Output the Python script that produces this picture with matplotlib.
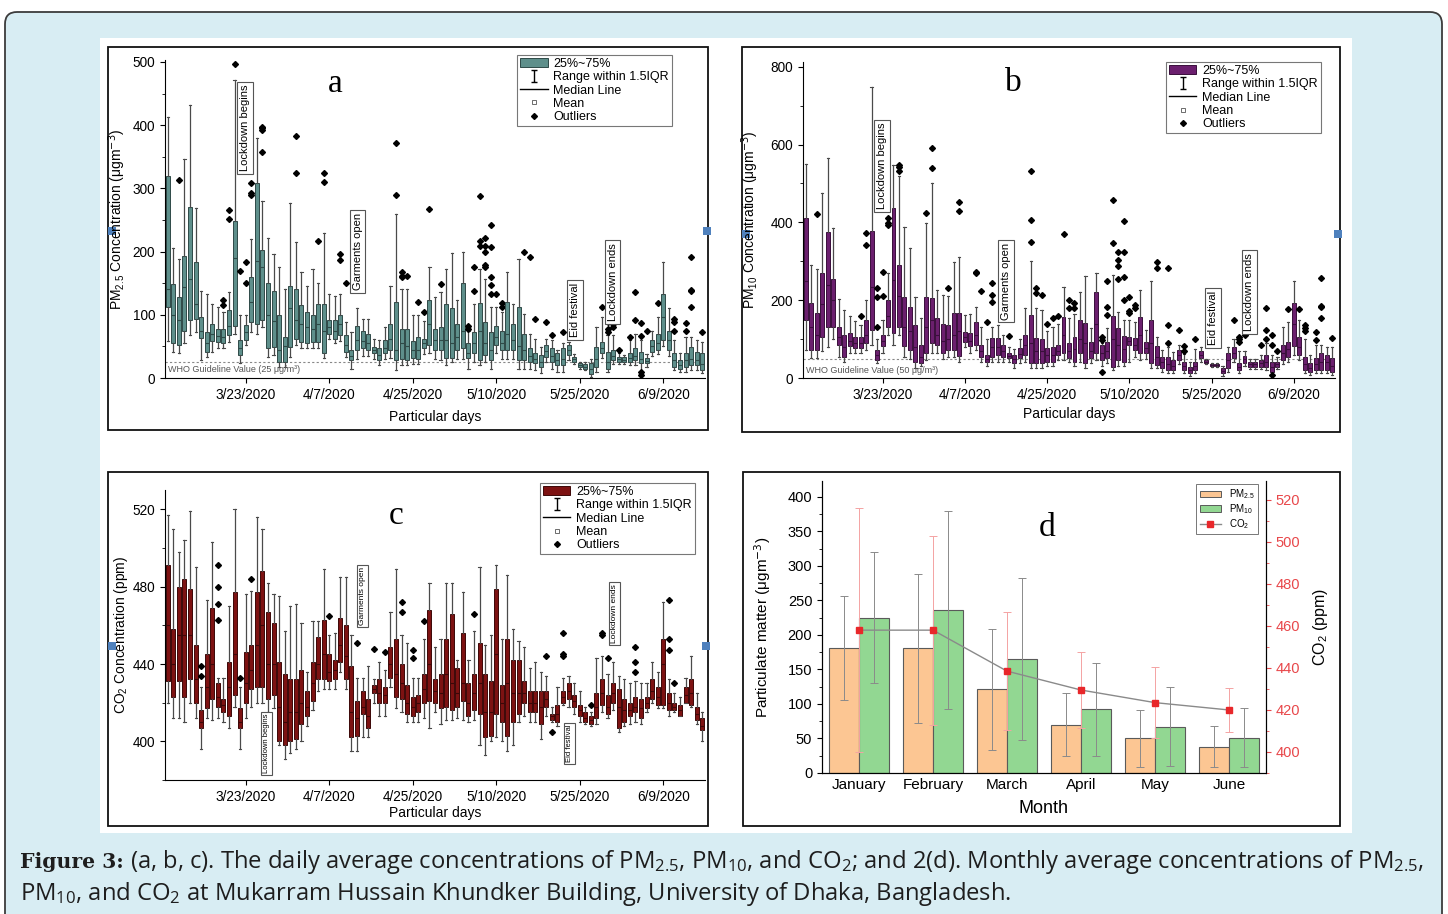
import numpy as np
import matplotlib
matplotlib.use('Agg')
import matplotlib.pyplot as plt
from matplotlib.patches import Rectangle, FancyBboxPatch, Patch
from matplotlib.lines import Line2D
from matplotlib.path import Path
from matplotlib.ticker import MultipleLocator

plt.rcParams['font.family'] = ['Liberation Sans', 'DejaVu Sans']
plt.rcParams['mathtext.default'] = 'regular'

# ---------------- data ----------------
date_pos = [15, 30, 45, 60, 75, 90]
date_labels = ['3/23/2020', '4/7/2020', '4/25/2020', '5/10/2020', '5/25/2020', '6/9/2020']

# (a) PM2.5 daily box stats
a_lo = [58, 41, 39, 55, 68, 73, 28, 34, 41, 47, 47, 57, 70, 23, 52, 73, 70, 80, 34, 36,
        18, 18, 34, 52, 47, 47, 47, 47, 31, 62, 55, 58, 34, 15, 30, 35, 35, 30, 20, 30,
        32, 13, 20, 20, 22, 22, 38, 40, 30, 28, 20, 25, 30, 30, 15, 25, 20, 25, 15, 40,
        30, 30, 30, 15, 15, 15, 12, 8, 25, 15, 10, 10, 28, 22, 15, 12, 2, 10, 32, 10,
        22, 22, 22, 20, 20, 10, 18, 35, 38, 50, 35, 12, 10, 10, 12, 12, 8]
a_q1 = [112, 55, 52, 75, 91, 94, 63, 41, 58, 57, 56, 68, 83, 36, 60, 89, 86, 91, 47, 49,
        26, 26, 49, 62, 57, 55, 57, 57, 39, 70, 62, 68, 41, 28, 44, 47, 44, 39, 28, 39,
        44, 28, 30, 28, 32, 30, 47, 52, 44, 44, 31, 31, 44, 47, 31, 39, 28, 36, 28, 52,
        44, 44, 44, 28, 28, 26, 23, 18, 34, 26, 20, 20, 36, 26, 18, 15, 7, 18, 39, 15,
        28, 26, 26, 26, 28, 23, 23, 41, 44, 60, 44, 18, 15, 18, 20, 20, 13]
a_med = [140, 99, 91, 144, 157, 117, 75, 55, 70, 66, 65, 82, 190, 48, 72, 120, 185, 175, 100, 90,
         45, 50, 110, 92, 85, 80, 78, 85, 75, 80, 75, 85, 52, 35, 60, 58, 55, 44, 36, 48,
         62, 45, 55, 50, 45, 45, 55, 85, 60, 60, 60, 55, 65, 75, 40, 55, 75, 55, 45, 65,
         55, 70, 60, 50, 45, 35, 30, 25, 42, 35, 28, 30, 45, 30, 20, 18, 15, 30, 48, 25,
         35, 30, 29, 32, 35, 30, 27, 50, 55, 96, 60, 28, 20, 28, 30, 28, 22]
a_q3 = [320, 149, 128, 193, 271, 184, 96, 73, 86, 78, 78, 107, 248, 60, 84, 159, 309, 202, 151, 138,
        99, 65, 146, 140, 116, 104, 99, 117, 117, 91, 91, 100, 68, 44, 83, 74, 69, 49, 47, 60,
        86, 120, 78, 78, 58, 65, 62, 123, 78, 81, 117, 110, 86, 151, 55, 73, 118, 89, 73, 83,
        75, 120, 86, 112, 70, 47, 39, 36, 52, 47, 39, 47, 52, 34, 23, 22, 23, 49, 57, 41,
        44, 34, 33, 39, 47, 41, 31, 60, 70, 133, 75, 39, 28, 39, 49, 41, 39]
a_hi = [413, 206, 188, 346, 432, 269, 138, 133, 117, 112, 105, 136, 471, 99, 100, 220, 380, 280, 222, 196,
        175, 141, 277, 215, 167, 146, 172, 151, 230, 133, 130, 133, 89, 73, 110, 94, 94, 62, 60, 81,
        146, 259, 140, 140, 99, 99, 90, 175, 128, 136, 172, 197, 123, 199, 75, 117, 172, 157, 112, 112,
        105, 167, 117, 188, 102, 70, 62, 49, 62, 60, 44, 55, 57, 38, 26, 25, 30, 81, 96, 68,
        68, 39, 37, 60, 70, 60, 38, 75, 96, 183, 110, 60, 39, 65, 65, 60, 57]
a_out = {3: [313], 11: [116, 123], 12: [252, 266], 13: [497], 14: [170], 15: [150, 184],
         16: [289, 293, 309], 18: [357, 393, 395, 397], 24: [325, 383], 28: [217], 29: [310, 324],
         32: [186, 196], 33: [150], 42: [289, 371], 43: [159, 162, 168], 44: [161], 46: [121],
         47: [104], 48: [267], 50: [148], 55: [77, 82], 56: [137, 175], 57: [209, 217, 288],
         58: [175, 178, 199, 209, 222], 59: [133, 147, 160, 208, 242], 60: [133], 61: [112, 118],
         65: [199], 66: [191], 67: [94], 69: [89], 70: [68], 72: [73], 79: [112], 80: [73, 78, 89],
         81: [81, 86], 82: [44], 84: [65], 85: [92, 136], 86: [66, 87, 5, 10], 87: [75], 89: [118],
         92: [75, 89, 94], 94: [74, 87], 95: [112, 138, 139, 191], 97: [73]}

# (b) PM10 daily box stats
b_lo = [72, 51, 51, 70, 80, 100, 55, 42, 63, 63, 63, 72, 85, 38, 63, 110, 85, 110, 55, 50,
        25, 30, 45, 65, 63, 50, 55, 55, 42, 80, 63, 72, 42, 30, 42, 42, 42, 40, 25, 38,
        42, 25, 25, 25, 30, 30, 45, 45, 40, 30, 40, 25, 38, 45, 30, 38, 20, 30, 30, 40,
        55, 45, 50, 25, 25, 15, 12, 12, 35, 12, 5, 12, 42, 35, 28, 28, 5, 15, 40, 12,
        30, 22, 22, 22, 20, 10, 22, 35, 40, 60, 45, 12, 8, 12, 12, 12, 8]
b_q1 = [149, 72, 72, 106, 132, 132, 85, 55, 81, 76, 76, 91, 123, 46, 82, 132, 115, 132, 81, 72,
        42, 38, 63, 89, 85, 63, 72, 72, 57, 93, 81, 85, 55, 42, 55, 59, 55, 51, 38, 51,
        59, 38, 38, 38, 42, 42, 59, 63, 51, 42, 63, 38, 51, 63, 46, 51, 29, 46, 42, 85,
        72, 63, 63, 38, 33, 25, 21, 21, 46, 21, 12, 21, 51, 39, 31, 31, 12, 25, 51, 21,
        39, 29, 29, 29, 29, 16, 29, 46, 55, 81, 59, 21, 16, 21, 21, 21, 16]
b_med = [250, 130, 110, 190, 240, 200, 105, 80, 95, 90, 90, 110, 235, 58, 95, 160, 252, 210, 130, 120,
         80, 55, 130, 150, 110, 95, 100, 110, 120, 105, 95, 110, 70, 50, 80, 80, 70, 57, 48, 62,
         85, 90, 70, 70, 58, 58, 70, 110, 70, 75, 100, 90, 70, 140, 65, 70, 100, 85, 75, 95,
         85, 110, 78, 90, 55, 40, 35, 32, 60, 30, 20, 30, 60, 42, 33, 33, 18, 45, 65, 28,
         48, 35, 35, 38, 40, 28, 35, 65, 75, 140, 80, 35, 25, 35, 40, 40, 30]
b_q3 = [412, 192, 166, 271, 376, 254, 132, 110, 115, 106, 106, 149, 378, 72, 110, 200, 438, 290, 207, 183,
        136, 85, 207, 205, 153, 140, 136, 168, 168, 119, 115, 145, 85, 59, 102, 102, 85, 63, 59, 76,
        110, 162, 102, 99, 76, 79, 85, 158, 89, 106, 149, 141, 93, 222, 85, 93, 159, 128, 108, 106,
        102, 158, 93, 149, 81, 55, 55, 46, 72, 42, 29, 42, 70, 46, 36, 36, 25, 63, 79, 38,
        57, 42, 42, 46, 59, 42, 42, 85, 93, 192, 106, 55, 38, 51, 63, 59, 51]
b_hi = [550, 290, 279, 476, 565, 386, 202, 175, 160, 147, 135, 200, 747, 100, 150, 269, 548, 518, 389, 333,
        209, 153, 398, 500, 226, 213, 210, 299, 312, 162, 165, 183, 130, 100, 130, 136, 110, 80, 75, 100,
        179, 300, 180, 175, 120, 130, 140, 235, 153, 165, 222, 262, 128, 271, 90, 128, 265, 170, 150, 150,
        145, 226, 123, 248, 106, 72, 80, 68, 85, 62, 42, 75, 80, 50, 38, 38, 32, 80, 100, 70,
        70, 50, 50, 60, 90, 60, 55, 132, 145, 248, 150, 100, 60, 85, 85, 80, 80]
b_out = {3: [421], 11: [160], 12: [342, 372], 14: [130, 209, 232], 15: [211, 273], 16: [393, 399, 410],
         18: [533, 542, 548], 23: [423], 24: [539, 590], 27: [232], 29: [430, 451], 32: [271, 273],
         33: [224], 34: [145], 35: [195, 213, 243], 38: [108], 42: [350, 406, 533], 43: [219, 230],
         44: [213], 45: [138], 46: [153], 47: [159], 48: [370], 49: [179, 200], 50: [179, 192],
         55: [98, 106, 16], 56: [162, 183, 250], 57: [348, 458], 58: [254, 288, 302, 325],
         59: [200, 260, 325, 404], 60: [166, 173, 209], 61: [179, 188], 65: [282, 299],
         67: [91, 136, 282], 69: [123], 70: [70, 82], 72: [99], 79: [149], 80: [93, 99, 106],
         81: [110, 117], 84: [85], 85: [99, 123, 179], 86: [85, 110, 8], 87: [70], 89: [177],
         91: [177], 92: [122, 128, 136], 94: [98, 117], 95: [153, 183, 185, 256], 97: [104]}

# (c) CO2 daily box stats
c_lo = [420, 412, 412, 410, 420, 412, 396, 412, 411, 412, 410, 407, 418, 396, 412, 418, 420, 420, 415, 417,
        398, 391, 394, 396, 400, 408, 416, 426, 427, 427, 427, 436, 427, 395, 395, 402, 402, 420, 413, 413,
        428, 417, 415, 410, 410, 410, 412, 407, 415, 409, 411, 411, 412, 411, 410, 411, 398, 393, 400, 402,
        400, 395, 398, 410, 413, 410, 410, 401, 413, 410, 408, 419, 418, 414, 410, 409, 408, 409, 415, 412,
        416, 405, 408, 409, 410, 409, 415, 420, 417, 417, 413, 415, 413, 420, 418, 409, 400]
c_q1 = [431, 423, 431, 423, 432, 420, 407, 417, 422, 418, 415, 413, 424, 407, 420, 427, 428, 428, 422, 424,
        400, 398, 400, 401, 409, 413, 421, 432, 432, 431, 432, 441, 432, 402, 403, 414, 407, 425, 420, 420,
        433, 423, 422, 414, 413, 415, 420, 421, 420, 417, 418, 416, 418, 421, 413, 416, 414, 402, 403, 414,
        410, 403, 410, 414, 420, 415, 415, 409, 418, 411, 410, 420, 422, 418, 413, 410, 409, 412, 419, 414,
        420, 407, 410, 413, 415, 412, 417, 422, 419, 419, 416, 416, 413, 420, 419, 411, 406]
c_med = [460, 440, 455, 455, 455, 432, 410, 428, 440, 423, 419, 428, 445, 410, 430, 437, 450, 460, 440, 440,
         418, 410, 415, 415, 420, 418, 430, 440, 445, 436, 437, 450, 444, 415, 412, 418, 413, 427, 425, 424,
         440, 435, 430, 420, 418, 420, 427, 440, 426, 425, 435, 430, 425, 430, 420, 425, 430, 415, 415, 445,
         420, 430, 425, 425, 425, 420, 420, 418, 422, 413, 414, 423, 426, 421, 416, 412, 411, 418, 425, 418,
         425, 418, 416, 416, 418, 417, 420, 426, 423, 440, 420, 418, 416, 424, 425, 414, 408]
c_q3 = [491, 458, 480, 484, 479, 450, 416, 445, 469, 430, 422, 441, 477, 417, 446, 450, 477, 488, 467, 461,
        441, 435, 432, 432, 437, 426, 441, 454, 463, 445, 442, 464, 460, 439, 421, 426, 422, 429, 432, 428,
        449, 453, 440, 429, 423, 424, 435, 468, 432, 435, 453, 466, 438, 456, 430, 435, 451, 435, 431, 479,
        429, 453, 442, 442, 431, 426, 426, 426, 426, 414, 419, 426, 430, 424, 419, 415, 413, 425, 432, 424,
        430, 427, 422, 420, 423, 422, 423, 432, 428, 453, 425, 420, 419, 428, 432, 418, 412]
c_hi = [517, 510, 498, 504, 519, 490, 428, 473, 503, 433, 433, 470, 520, 428, 476, 478, 516, 510, 482, 476,
        475, 457, 470, 471, 461, 436, 462, 462, 489, 455, 456, 485, 485, 455, 433, 433, 439, 432, 441, 437,
        467, 489, 455, 451, 433, 433, 453, 482, 449, 453, 482, 482, 442, 477, 442, 457, 490, 450, 455, 491,
        453, 486, 458, 452, 449, 438, 441, 436, 434, 418, 428, 433, 434, 430, 426, 418, 415, 443, 444, 435,
        441, 434, 432, 430, 431, 430, 430, 441, 436, 472, 432, 425, 423, 433, 444, 425, 415]
c_out = {7: [434, 439], 10: [463, 471, 480, 491], 14: [433], 16: [484], 30: [465], 35: [451], 38: [448],
         40: [446], 43: [467, 472], 45: [443, 447], 47: [462], 56: [466], 69: [444], 70: [405],
         72: [444, 445, 456], 77: [419], 79: [455, 456], 80: [443], 85: [436, 441, 449],
         91: [447, 453, 473], 92: [430]}

# (d) monthly means
months = ['January', 'February', 'March', 'April', 'May', 'June']
pm25_mean = [181, 181, 121, 70, 50, 38]
pm25_sd = [75, 108, 87, 46, 41, 30]
pm10_mean = [225, 236, 165, 92, 67, 51]
pm10_sd = [95, 143, 117, 67, 57, 43]
co2_mean = [458, 458, 438.5, 429.5, 423.5, 420]
co2_sd = [58, 45, 28, 18, 17, 10.5]

unit = r'(μgm$^{\mathsf{-3}}$)'

# ---------------- figure ----------------
W, H = 1448, 914
fig = plt.figure(figsize=(W / 100, H / 100), dpi=100)

bg = fig.add_axes([0, 0, 1, 1], zorder=-1)
bg.set_xlim(0, W)
bg.set_ylim(H, 0)
bg.axis('off')
bg.add_patch(FancyBboxPatch((5, 12), 1437, 930, boxstyle='round,pad=0,rounding_size=12',
                            fc='#d8edf3', ec='#3c3c3c', lw=1.3))
bg.add_patch(Rectangle((100, 38), 1252, 795, fc='white', ec='none'))
for (l, t, r, b) in [(108, 47, 708, 430), (742, 47, 1340, 432), (108, 472, 708, 826), (743, 472, 1340, 826)]:
    bg.add_patch(Rectangle((l, t), r - l, b - t, fill=False, ec='#111111', lw=1.3))
for (hx, hy) in [(112, 231), (707, 231), (746, 234), (1338, 234), (112, 646), (706, 646)]:
    bg.add_patch(Rectangle((hx - 4, hy - 4), 8, 8, fc='#4f81bd', ec='none'))


def px_axes(l, t, r, b):
    ax = fig.add_axes([l / W, 1 - b / H, (r - l) / W, (b - t) / H])
    ax.set_facecolor('none')
    return ax


def draw_boxes(ax, lo, q1, med, q3, hi, outs, face, edge):
    stats = [dict(whislo=lo[i], q1=q1[i], med=med[i], q3=q3[i], whishi=hi[i],
                  fliers=outs.get(i + 1, [])) for i in range(len(lo))]
    ax.bxp(stats, positions=np.arange(1, len(lo) + 1), widths=0.72, capwidths=0.4,
           patch_artist=True, manage_ticks=False,
           boxprops=dict(facecolor=face, edgecolor=edge, linewidth=0.7),
           whiskerprops=dict(color='#4a4a4a', linewidth=0.9),
           capprops=dict(color='#4a4a4a', linewidth=0.8),
           medianprops=dict(color=edge, linewidth=0.8),
           flierprops=dict(marker='D', markersize=3, markerfacecolor='k', markeredgecolor='k'))
    ax.set_xlim(0.5, len(lo) + 0.5)
    ax.set_xticks(date_pos)
    ax.set_xticklabels(date_labels)
    ax.spines['top'].set_visible(False)
    ax.spines['right'].set_visible(False)
    ax.tick_params(labelsize=9.8, length=3.5, width=0.8, direction='out')
    ax.tick_params(which='minor', length=2, width=0.6)


iqr_path = Path([(-0.5, 1), (0.5, 1), (0, 1), (0, -1), (-0.5, -1), (0.5, -1)],
                [Path.MOVETO, Path.LINETO, Path.MOVETO, Path.LINETO, Path.MOVETO, Path.LINETO])


def box_legend(ax, face, edge, anchor):
    handles = [Patch(fc=face, ec=edge, lw=0.7),
               Line2D([], [], ls='none', marker=iqr_path, ms=9, mfc='none', mec='k', mew=1),
               Line2D([], [], color='k', lw=1),
               Line2D([], [], ls='none', marker='s', ms=3, mfc='none', mec='#555', mew=0.6),
               Line2D([], [], ls='none', marker='D', ms=3, mfc='k', mec='k')]
    labels = ['25%~75%', 'Range within 1.5IQR', 'Median Line', 'Mean', 'Outliers']
    leg = ax.legend(handles, labels, loc='upper left', bbox_to_anchor=anchor, borderaxespad=0,
                    fontsize=9, frameon=True, fancybox=False, edgecolor='#777', framealpha=1,
                    handlelength=2.2, handletextpad=0.45, labelspacing=0.1, borderpad=0.25)
    leg.get_frame().set_linewidth(0.8)
    leg.set_zorder(10)


def note(ax, x, y, s, fs):
    ax.text(x, y, s, rotation=90, ha='center', va='center', fontsize=fs, zorder=6,
            bbox=dict(boxstyle='square,pad=0.25', fc='white', ec='#555', lw=0.8))


# ---- panel a ----
ax_a = px_axes(165, 60, 705, 378)
draw_boxes(ax_a, a_lo, a_q1, a_med, a_q3, a_hi, a_out, '#5e8f8b', '#2f4a48')
ax_a.set_ylim(0, 503)
ax_a.yaxis.set_major_locator(MultipleLocator(100))
ax_a.yaxis.set_minor_locator(MultipleLocator(50))
ax_a.axhline(25, color='#888', lw=0.8, ls=(0, (2, 2)), zorder=0)
ax_a.text(1, 13, 'WHO Guideline Value (25 μg/m³)', fontsize=6.5, color='#555', va='center')
ax_a.set_ylabel('PM$_{2.5}$ Concentration ' + unit, fontsize=10)
ax_a.yaxis.set_label_coords(-0.069, 0.5)
ax_a.set_xlabel('Particular days', fontsize=10)
ax_a.xaxis.set_label_coords(0.5, -0.10)
note(ax_a, 14.9, 396, 'Lockdown begins', 8)
note(ax_a, 35.1, 200, 'Garments open', 8)
note(ax_a, 74.1, 108, 'Eid festival', 8)
note(ax_a, 80.9, 152, 'Lockdown ends', 8)
box_legend(ax_a, '#5e8f8b', '#2f4a48', (0.652, 1.016))

# ---- panel b ----
ax_b = px_axes(803, 62, 1335, 378)
draw_boxes(ax_b, b_lo, b_q1, b_med, b_q3, b_hi, b_out, '#6b1f6e', '#3a0f3c')
ax_b.set_ylim(0, 812)
ax_b.yaxis.set_major_locator(MultipleLocator(200))
ax_b.yaxis.set_minor_locator(MultipleLocator(100))
ax_b.axhline(50, color='#888', lw=0.8, ls=(0, (2, 2)), zorder=0)
ax_b.text(1, 20, 'WHO Guideline Value (50 μg/m³)', fontsize=6.5, color='#555', va='center')
ax_b.set_ylabel('PM$_{10}$ Concentration ' + unit, fontsize=10)
ax_b.yaxis.set_label_coords(-0.079, 0.5)
ax_b.set_xlabel('Particular days', fontsize=10)
ax_b.xaxis.set_label_coords(0.5, -0.092)
note(ax_b, 14.9, 545, 'Lockdown begins', 8)
note(ax_b, 37.5, 249, 'Garments open', 8)
note(ax_b, 75.3, 154, 'Eid festival', 8)
note(ax_b, 81.9, 221, 'Lockdown ends', 8)
box_legend(ax_b, '#6b1f6e', '#3a0f3c', (0.682, 1.0))

# ---- panel c ----
ax_c = px_axes(165, 490, 705, 780)
draw_boxes(ax_c, c_lo, c_q1, c_med, c_q3, c_hi, c_out, '#7d1212', '#3d0808')
ax_c.set_ylim(380, 530)
ax_c.yaxis.set_major_locator(MultipleLocator(40))
ax_c.yaxis.set_minor_locator(MultipleLocator(20))
ax_c.set_ylabel('CO$_2$ Concentration (ppm)', fontsize=10)
ax_c.yaxis.set_label_coords(-0.064, 0.5)
ax_c.set_xlabel('Particular days', fontsize=10)
ax_c.xaxis.set_label_coords(0.5, -0.09)
note(ax_c, 18.8, 399, 'Lockdown begins', 5.5)
note(ax_c, 36.0, 475, 'Garments open', 6)
note(ax_c, 73.1, 399, 'Eid festival', 5.5)
note(ax_c, 81.3, 466, 'Lockdown ends', 6)
box_legend(ax_c, '#7d1212', '#3d0808', (0.694, 1.024))

# ---- panel d ----
ax_d = px_axes(822, 481, 1266, 773)
x = np.arange(len(months))
err_style = dict(ecolor='#8a8a8a', elinewidth=0.7, capsize=3, capthick=0.7)
ax_d.bar(x - 0.205, pm25_mean, 0.41, yerr=pm25_sd, color='#fcc693', edgecolor='#5a5a5a',
         lw=0.8, error_kw=err_style)
ax_d.bar(x + 0.205, pm10_mean, 0.41, yerr=pm10_sd, color='#92d792', edgecolor='#5a5a5a',
         lw=0.8, error_kw=err_style)
ax_d.set_xlim(-0.5, 5.5)
ax_d.set_ylim(0, 423)
ax_d.set_xticks(x)
ax_d.set_xticklabels(months)
ax_d.yaxis.set_major_locator(MultipleLocator(50))
ax_d.yaxis.set_minor_locator(MultipleLocator(25))
ax_d.tick_params(labelsize=10.5, length=3.5, width=0.8)
ax_d.tick_params(axis='x', length=0, labelsize=11)
ax_d.tick_params(which='minor', length=2, width=0.6)
ax_d.spines['top'].set_visible(False)
ax_d.set_ylabel('Particulate matter ' + unit, fontsize=11)
ax_d.yaxis.set_label_coords(-0.11, 0.5)
ax_d.set_xlabel('Month', fontsize=13)
ax_d.xaxis.set_label_coords(0.5, -0.093)

ax2 = ax_d.twinx()
ax2.errorbar(x, co2_mean, yerr=co2_sd, color='#8a8a8a', lw=1, marker='s', ms=5,
             mfc='#e8272a', mec='#e8272a', ecolor='#f4a3a3', elinewidth=0.7, capsize=3, capthick=0.7)
ax2.set_ylim(390, 529)
ax2.yaxis.set_major_locator(MultipleLocator(20))
ax2.yaxis.set_minor_locator(MultipleLocator(10))
ax2.tick_params(labelsize=10.5, length=3.5, width=0.8, colors='#e8474a')
ax2.tick_params(which='minor', length=2, width=0.6, colors='#e8474a')
ax2.spines['top'].set_visible(False)
ax2.set_ylabel('CO$_2$ (ppm)', fontsize=11.5)
ax2.yaxis.set_label_coords(1.101, 0.5)
d_handles = [Patch(fc='#fcc693', ec='#5a5a5a', lw=0.7), Patch(fc='#92d792', ec='#5a5a5a', lw=0.7),
             Line2D([], [], color='#8a8a8a', lw=1, marker='s', ms=4, mfc='#e8272a', mec='#e8272a')]
leg_d = ax2.legend(d_handles, ['PM$_{2.5}$', 'PM$_{10}$', 'CO$_2$'], loc='upper right',
                   bbox_to_anchor=(0.982, 0.99), borderaxespad=0, fontsize=7, fancybox=False,
                   edgecolor='#777', framealpha=1, handlelength=2.2, labelspacing=0.12, borderpad=0.35)
leg_d.get_frame().set_linewidth(0.7)

# ---- panel letters ----
for (lx, ly, s) in [(335, 84, 'a'), (1013, 83, 'b'), (396, 516, 'c'), (1047, 528, 'd')]:
    bg.text(lx, ly, s, fontfamily='Liberation Serif', fontsize=24, ha='center', va='center', zorder=20)

# ---- caption ----
cap_col = '#1e1e1e'
t1 = bg.text(20, 862, 'Figure 3:', fontfamily='DejaVu Serif', fontweight='bold', fontsize=13,
             va='center', color=cap_col)
fig.canvas.draw()
r = fig.canvas.get_renderer()
w1 = t1.get_window_extent(r).width
t1.set_fontsize(13 * 104 / w1)
x_after = 20 + 104 + 6
line1 = ('(a, b, c). The daily average concentrations of PM$_{2.5}$, PM$_{10}$, and CO$_2$; '
         'and 2(d). Monthly average concentrations of PM$_{2.5}$,')
line2 = 'PM$_{10}$, and CO$_2$ at Mukarram Hussain Khundker Building, University of Dhaka, Bangladesh.'
t2 = bg.text(x_after, 862, line1, fontfamily='Open Sans', fontsize=14, va='center', color=cap_col)
w2 = t2.get_window_extent(r).width
fs = 14 * (1432 - x_after) / w2
t2.set_fontsize(fs)
bg.text(20, 894, line2, fontfamily='Open Sans', fontsize=fs, va='center', color=cap_col)

fig.savefig('out.png', dpi=100)
